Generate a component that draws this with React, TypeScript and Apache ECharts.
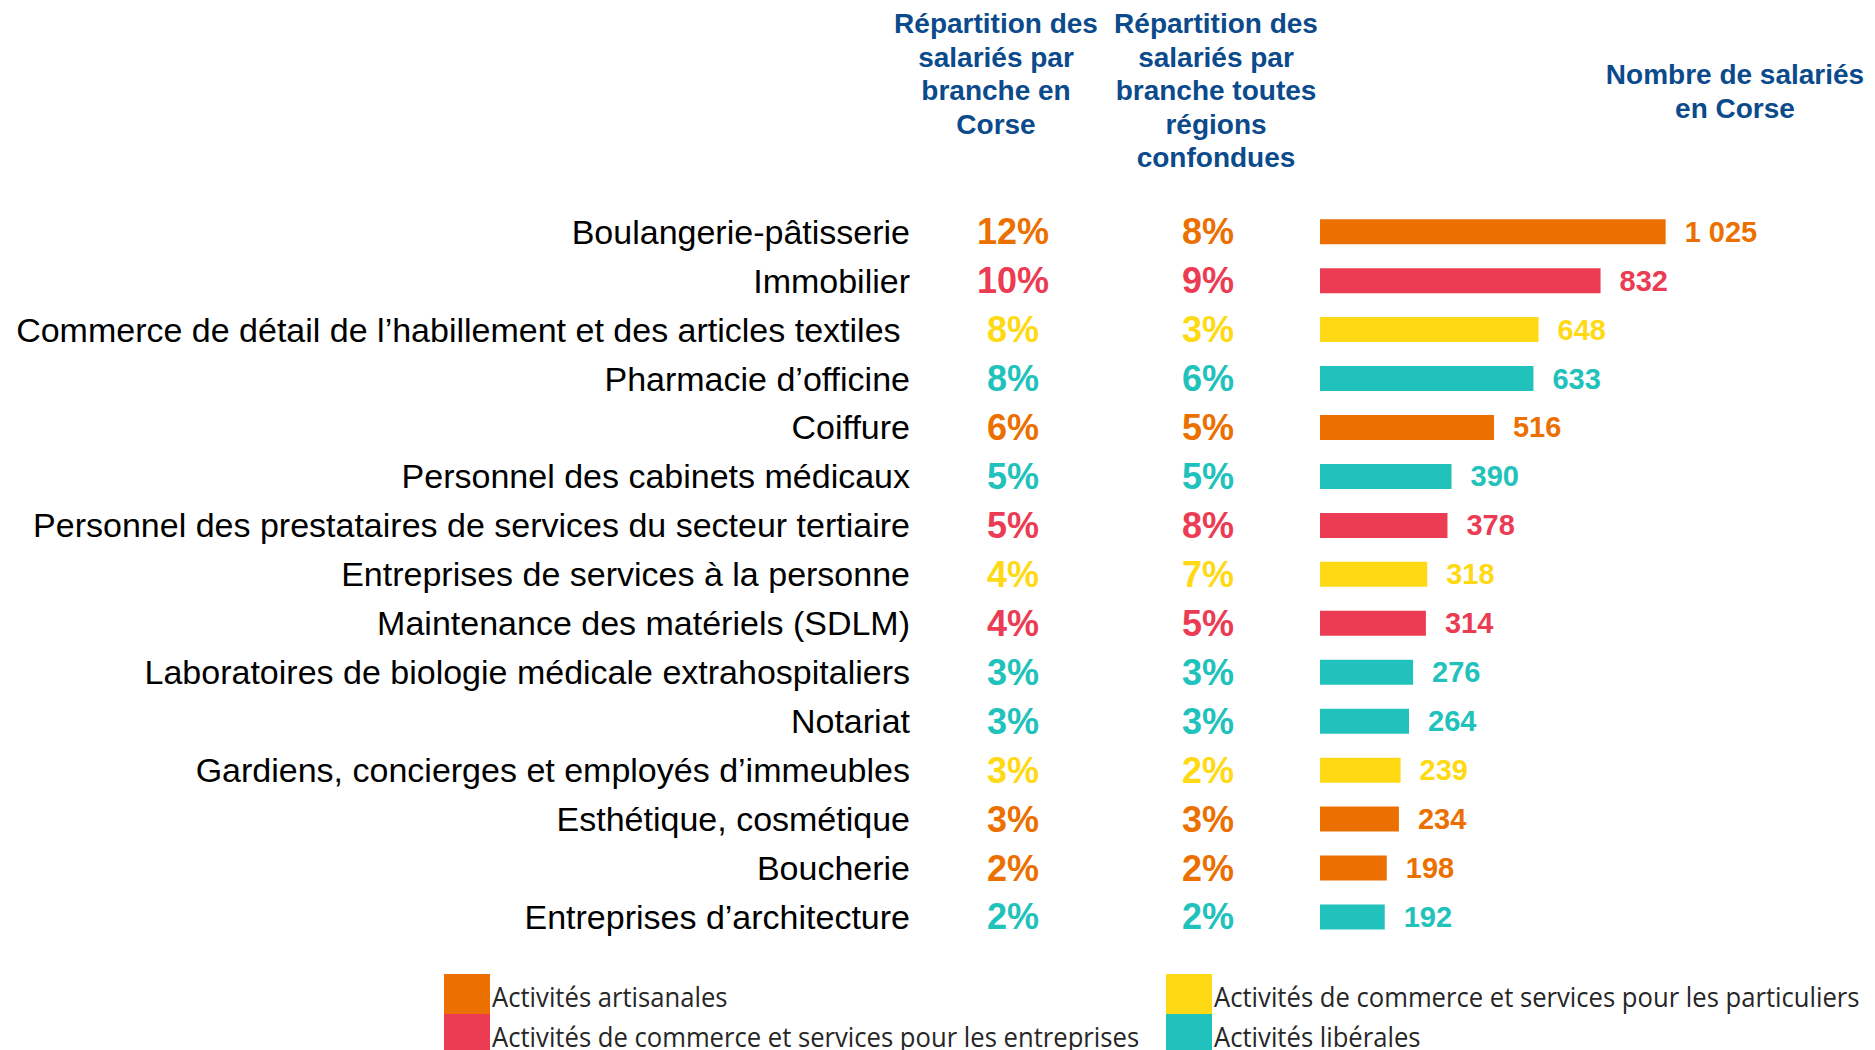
import React, { useEffect, useRef } from "react";
import * as echarts from "echarts";

const categories = [
  "Boulangerie-pâtisserie",
  "Immobilier",
  "Commerce de détail de l’habillement et des articles textiles ",
  "Pharmacie d’officine",
  "Coiffure",
  "Personnel des cabinets médicaux",
  "Personnel des prestataires de services du secteur tertiaire",
  "Entreprises de services à la personne",
  "Maintenance des matériels (SDLM)",
  "Laboratoires de biologie médicale extrahospitaliers",
  "Notariat",
  "Gardiens, concierges et employés d’immeubles",
  "Esthétique, cosmétique",
  "Boucherie",
  "Entreprises d’architecture",
];
// 0 artisanales, 1 entreprises, 2 particuliers, 3 libérales
const groupOfCategory = [0, 1, 2, 3, 0, 3, 1, 2, 1, 3, 3, 2, 0, 0, 3];
const pctCorse = [12, 10, 8, 8, 6, 5, 5, 4, 4, 3, 3, 3, 3, 2, 2];
const pctAllRegions = [8, 9, 3, 6, 5, 5, 8, 7, 5, 3, 3, 2, 3, 2, 2];
const salaries = [1025, 832, 648, 633, 516, 390, 378, 318, 314, 276, 264, 239, 234, 198, 192];

const groupLabels = [
  "Activités artisanales",
  "Activités de commerce et services pour les entreprises",
  "Activités de commerce et services pour les particuliers",
  "Activités libérales",
];
const groupColors = ["#EC7000", "#EB3C54", "#FFDA14", "#21C1BC"];

const headers = [
  "Répartition des\nsalariés par\nbranche en\nCorse",
  "Répartition des\nsalariés par\nbranche toutes\nrégions\nconfondues",
  "Nombre de salariés\nen Corse",
];

const FONT = "'Liberation Sans', Arial, sans-serif";
const HEAD_BLUE = "#0B4A8B";

function fmtThousands(v: number) {
  return String(v).replace(/\B(?=(\d{3})+(?!\d))/g, " ");
}

export default function App() {
  const ref = useRef<HTMLDivElement>(null);
  useEffect(() => {
    if (!ref.current) return;
    const chart = echarts.init(ref.current, null, { renderer: "svg" });
    const colorAt = (i: number) => groupColors[groupOfCategory[i]];
    const gridLeft = 1320;
    const rowH = 48.95;
    const gridTop = 207.2;
    const xMax = 1500;
    const pxPerUnit = 0.3372;

    const pctAxis = (vals: number[], margin: number) => ({
      type: "category",
      data: categories,
      inverse: true,
      position: "left",
      axisLine: { show: false },
      axisTick: { show: false },
      splitLine: { show: false },
      axisLabel: {
        interval: 0,
        margin,
        align: "center",
        verticalAlign: "middle",
        padding: [9, 0, 0, 0],
        fontFamily: FONT,
        fontWeight: "bold",
        fontSize: 36,
        color: (_v: any, i: number) => colorAt(i),
        formatter: (_v: any, i: number) => vals[i] + "%",
      },
    });

    const legendPos = [
      { x: 444, y: 974 },
      { x: 444, y: 1014 },
      { x: 1166, y: 974 },
      { x: 1166, y: 1014 },
    ];
    const legendGraphics: any[] = [];
    groupLabels.forEach((lab, g) => {
      const p = legendPos[g];
      legendGraphics.push({
        type: "rect",
        shape: { x: p.x, y: p.y, width: 46, height: 40 },
        style: { fill: groupColors[g] },
        silent: true,
      });
      legendGraphics.push({
        type: "text",
        x: p.x + 48,
        y: p.y + 22,
        scaleX: 0.916,
        style: {
          text: lab,
          fill: "#262626",
          font: "28px 'Open Sans', sans-serif",
          textAlign: "left",
          textVerticalAlign: "middle",
        },
        silent: true,
      });
    });

    const headerGraphics = [
      { x: 996, y: 7, text: headers[0] },
      { x: 1216, y: 7, text: headers[1] },
      { x: 1735, y: 58, text: headers[2] },
    ].map((h) => ({
      type: "text",
      x: h.x,
      y: h.y,
      style: {
        text: h.text,
        fill: HEAD_BLUE,
        font: "bold 28px 'Liberation Sans', Arial, sans-serif",
        lineHeight: 33.5,
        textAlign: "center",
        textVerticalAlign: "top",
      },
      silent: true,
    }));

    chart.setOption({
      animation: false,
      backgroundColor: "#ffffff",
      grid: {
        left: gridLeft,
        top: gridTop,
        width: xMax * pxPerUnit,
        height: rowH * categories.length,
        containLabel: false,
      },
      xAxis: {
        type: "value",
        min: 0,
        max: xMax,
        show: false,
      },
      yAxis: [
        {
          type: "category",
          data: categories,
          inverse: true,
          position: "left",
          axisLine: { show: false },
          axisTick: { show: false },
          splitLine: { show: false },
          axisLabel: {
            interval: 0,
            margin: gridLeft - 910,
            align: "right",
            verticalAlign: "middle",
            padding: [11, 0, 0, 0],
            fontFamily: FONT,
            fontSize: 34,
            color: "#000000",
          },
        },
        pctAxis(pctCorse, gridLeft - 1013),
        pctAxis(pctAllRegions, gridLeft - 1208),
      ],
      series: [
        {
          type: "bar",
          yAxisIndex: 0,
          barWidth: 25,
          data: salaries.map((v, i) => ({
            value: v,
            itemStyle: { color: colorAt(i) },
            label: { color: colorAt(i) },
          })),
          label: {
            show: true,
            position: "right",
            distance: 19,
            padding: [10, 0, 0, 0],
            fontFamily: FONT,
            fontWeight: "bold",
            fontSize: 29,
            formatter: (p: any) => fmtThousands(p.value),
          },
        },
      ],
      graphic: [...headerGraphics, ...legendGraphics],
    });
    return () => chart.dispose();
  }, []);
  return (
    <div
      ref={ref}
      style={{ position: "fixed", left: 0, top: 0, width: 1875, height: 1050 }}
    />
  );
}
